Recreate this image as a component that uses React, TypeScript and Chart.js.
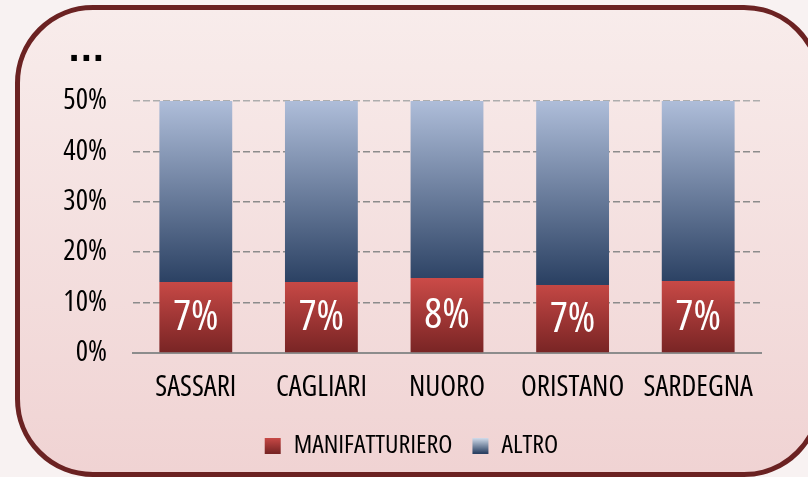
import React, { useEffect, useRef } from "react";
import { Chart, registerables } from "chart.js";

Chart.register(...registerables);

const TITLE = "...";
const CATEGORIES = ["SASSARI", "CAGLIARI", "NUORO", "ORISTANO", "SARDEGNA"];
const MANIFATTURIERO = [14.1, 14.1, 14.9, 13.5, 14.3];
const ALTRO = [35.9, 35.9, 35.1, 36.5, 35.7];
const MANIFATTURIERO_LABELS = ["7%", "7%", "8%", "7%", "7%"];
const Y_TICKS = [0, 10, 20, 30, 40, 50];

const FAMILY = "'Open Sans', 'Roboto', sans-serif";
const STRETCH = "condensed";

const titlePlugin = {
  id: "dotsTitle",
  afterDraw(chart: any) {
    const ctx = chart.ctx;
    ctx.save();
    ctx.fillStyle = "#000000";
    ctx.font = "bold 32px 'DejaVu Sans', sans-serif";
    ctx.textAlign = "left";
    ctx.textBaseline = "alphabetic";
    ctx.fillText(TITLE, chart.chartArea.left - 65, chart.chartArea.top - 40);
    ctx.restore();
  },
};

const barLabels = {
  id: "barLabels",
  afterDatasetsDraw(chart: any) {
    const meta = chart.getDatasetMeta(0);
    const ctx = chart.ctx;
    ctx.save();
    ctx.fillStyle = "#FFFFFF";
    ctx.font = `${STRETCH} 42px ${FAMILY}`;
    ctx.textAlign = "center";
    ctx.textBaseline = "middle";
    meta.data.forEach((el: any, i: number) => {
      const y = (el.y + el.base) / 2;
      ctx.fillText(MANIFATTURIERO_LABELS[i], el.x, y + 1);
    });
    ctx.restore();
  },
};

function redGradient(chart: any) {
  const y = chart.scales?.y;
  if (!chart.chartArea || !y) return "#B03A38";
  const g = chart.ctx.createLinearGradient(0, y.getPixelForValue(15), 0, y.getPixelForValue(0));
  g.addColorStop(0, "#CC4B48");
  g.addColorStop(1, "#782424");
  return g;
}

function blueGradient(chart: any) {
  const y = chart.scales?.y;
  if (!chart.chartArea || !y) return "#5A6F90";
  const g = chart.ctx.createLinearGradient(0, y.getPixelForValue(50), 0, y.getPixelForValue(14));
  g.addColorStop(0, "#AEBDD9");
  g.addColorStop(1, "#2B4163");
  return g;
}

export default function App() {
  const ref = useRef<HTMLCanvasElement | null>(null);

  useEffect(() => {
    if (!ref.current) return;
    const chart = new Chart(ref.current, {
      type: "bar",
      data: {
        labels: CATEGORIES,
        datasets: [
          {
            label: "MANIFATTURIERO",
            data: MANIFATTURIERO,
            backgroundColor: (c: any) => redGradient(c.chart),
            barPercentage: 0.58,
            categoryPercentage: 1,
          },
          {
            label: "ALTRO",
            data: ALTRO,
            backgroundColor: (c: any) => blueGradient(c.chart),
            barPercentage: 0.58,
            categoryPercentage: 1,
          },
        ],
      },
      options: {
        responsive: false,
        animation: false,
        layout: { padding: { left: 62, right: 47, top: 101, bottom: 8 } },
        plugins: {
          title: { display: false },
          legend: {
            position: "bottom",
            labels: {
              color: "#000000",
              font: { family: FAMILY, size: 26, weight: STRETCH },
              boxWidth: 16,
              boxHeight: 16,
              padding: 20,
              generateLabels(chart: any) {
                const items = Chart.defaults.plugins.legend.labels.generateLabels(chart);
                const ctx = chart.ctx;
                const top = chart.height - 40;
                const bottom = chart.height - 24;
                items.forEach((it: any, i: number) => {
                  const g = ctx.createLinearGradient(0, top, 0, bottom);
                  if (i === 0) {
                    g.addColorStop(0, "#CC4B48");
                    g.addColorStop(1, "#782424");
                  } else {
                    g.addColorStop(0, "#DCE6F4");
                    g.addColorStop(1, "#2B4163");
                  }
                  it.fillStyle = g;
                  it.strokeStyle = "rgba(0,0,0,0)";
                  it.lineWidth = 0;
                });
                return items;
              },
            },
          },
          tooltip: { enabled: false },
        },
        scales: {
          x: {
            stacked: true,
            grid: { display: false, drawTicks: false },
            border: { display: true, color: "#8C8C8C", width: 2 },
            ticks: {
              color: "#000000",
              font: { family: FAMILY, size: 29, weight: STRETCH },
              padding: 17,
              maxRotation: 0,
              autoSkip: false,
            },
            afterFit(scale: any) {
              scale.height = 60;
            },
          },
          y: {
            stacked: true,
            min: 0,
            max: 50,
            afterBuildTicks(scale: any) {
              scale.ticks = Y_TICKS.map((v) => ({ value: v }));
            },
            grid: {
              color: (c: any) => (c.tick && c.tick.value === 50 ? "#ADADAD" : "#8C8C8C"),
              lineWidth: 1.5,
              drawTicks: false,
            },
            border: { display: false, dash: [7, 3] },
            ticks: {
              color: "#000000",
              font: { family: FAMILY, size: 29, weight: STRETCH },
              padding: 26,
              callback: (v: any) => `${v}%`,
            },
            afterFit(scale: any) {
              scale.width = 71;
            },
          },
        },
      },
      plugins: [barLabels, titlePlugin],
    } as any);
    return () => chart.destroy();
  }, []);

  return (
    <div style={{ position: "fixed", left: 0, top: 0, width: 808, height: 477, background: "#F8F2F2", overflow: "hidden" }}>
      <div
        style={{
          position: "absolute",
          left: 15,
          top: 5,
          width: 807,
          height: 472,
          boxSizing: "border-box",
          border: "5px solid #6B2222",
          borderRadius: 78,
          background: "linear-gradient(#F8ECEB, #F0D3D3)",
        }}
      />
      <canvas ref={ref} width={808} height={477} style={{ position: "absolute", left: 0, top: 0 }} />
    </div>
  );
}
